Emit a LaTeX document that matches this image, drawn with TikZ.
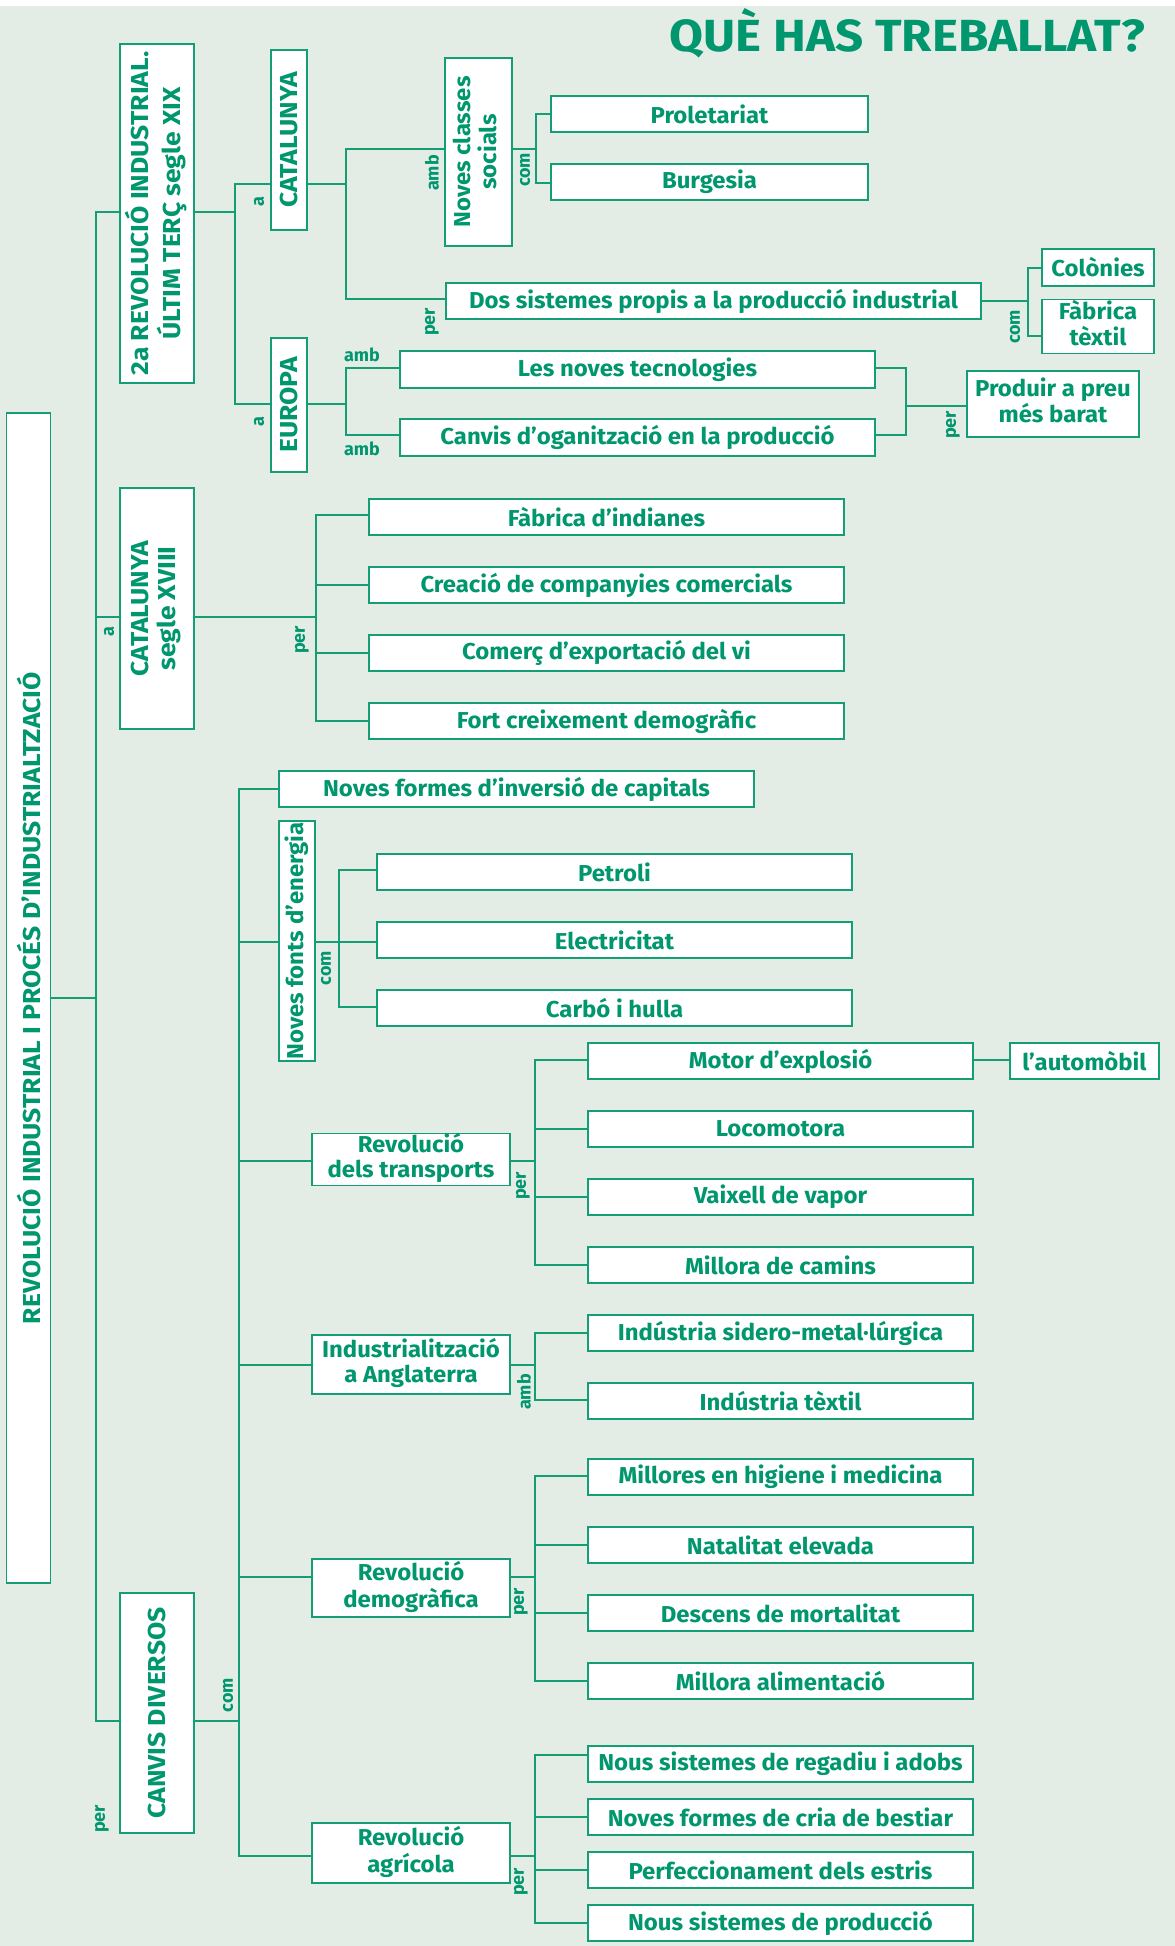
\documentclass[tikz,border=0pt]{standalone}
\usepackage{fontspec}
\setmainfont{Fira Sans}
\usepackage{graphicx}
\definecolor{tg}{RGB}{0,150,110}
\definecolor{lg}{RGB}{20,158,118}
\definecolor{bgc}{RGB}{227,237,230}
\makeatletter
\newcommand\stripw[1]{\strip@pt#1}
\makeatother
\newsavebox\mb
\newcommand\bfnt{\fontsize{23}{25}\selectfont\bfseries}
\newcommand\cfnt{\fontsize{24.5}{27}\selectfont\bfseries}
\newcommand\lfnt{\fontsize{18}{20}\selectfont\bfseries}
\newcommand\tfnt{\fontsize{45}{50}\selectfont\bfseries}
\newcommand\Bx[1]{\scalebox{\xsf}[1]{#1}}
\newcommand\Cx[1]{\scalebox{\csf}[1]{#1}}
\newcommand\Bxx[2]{\scalebox{\xsf}[1]{\begin{tabular}{@{}c@{}}#1\\#2\end{tabular}}}
\newcommand\Cxx[2]{\scalebox{\csf}[1]{\begin{tabular}{@{}c@{}}#1\\#2\end{tabular}}}
\newcommand\bx[7]{%
 \pgfmathsetmacro\bw{#4-#2}\pgfmathsetmacro\bh{#5-#3}%
 \pgfmathsetmacro\cx{(#2+#4)/2}\pgfmathsetmacro\cy{(#3+#5)/2}%
 \node[box,minimum width=\bw pt,minimum height=\bh pt,#6] (#1) at (\cx,\cy) {#7};}
\begin{document}%
\sbox\mb{\bfnt Creació de companyies comercials}%
\edef\mw{\stripw{\wd\mb}}%
\pgfmathsetmacro\xsf{372/\mw}%
\sbox\mb{\cfnt REVOLUCIÓ INDUSTRIAL I PROCÉS D’INDUSTRIALTZACIÓ}%
\edef\mw{\stripw{\wd\mb}}%
\pgfmathsetmacro\csf{652/\mw}%
\sbox\mb{\tfnt QUÈ HAS TREBALLAT?}%
\edef\mw{\stripw{\wd\mb}}%
\pgfmathsetmacro\tsf{475/\mw}%
\begin{tikzpicture}[x=1pt,y=-1pt,
  box/.style={draw=lg,line width=1.4pt,fill=white,inner sep=0pt,text=tg,font=\bfnt,align=center},
  ln/.style={draw=lg,line width=1.3pt},
  lbl/.style={text=tg,font=\lfnt,inner sep=0pt,rotate=90},
  lblh/.style={text=tg,font=\lfnt,inner sep=0pt}]
\useasboundingbox (0,0) rectangle (1175,1946);
\fill[bgc] (0,6) rectangle (1175,1946);
\fill[white] (0,0) rectangle (1175,6);
\node[anchor=base east,text=tg,font=\tfnt,inner sep=0pt] (title) at (1145,51) {\scalebox{\tsf}[1]{QUÈ HAS TREBALLAT?}};
% boxes
\bx{main}{6.5}{413}{50.5}{1583}{font=\cfnt}{\rotatebox{90}{\Cx{REVOLUCIÓ INDUSTRIAL I PROCÉS D’INDUSTRIALTZACIÓ}}}
\bx{b2a}{120}{44}{194}{383}{font=\cfnt}{\rotatebox{90}{\Cxx{2a REVOLUCIÓ INDUSTRIAL.}{ÚLTIM TERÇ segle XIX}}}
\bx{cat}{271}{50}{307}{230}{font=\cfnt}{\rotatebox{90}{\Cx{CATALUNYA}}}
\bx{eur}{271}{338}{307}{472}{font=\cfnt}{\rotatebox{90}{\Cx{EUROPA}}}
\bx{ncs}{445}{58}{512}{246}{}{\rotatebox{90}{\Bxx{Noves classes}{socials}}}
\bx{prol}{551}{96}{868}{132}{}{\Bx{Proletariat}}
\bx{burg}{551}{164}{868}{200}{}{\Bx{Burgesia}}
\bx{dos}{446}{283}{981}{319}{}{\Bx{Dos sistemes propis a la producció industrial}}
\bx{col}{1042}{249}{1154}{286}{}{\Bx{Colònies}}
\bx{fab}{1042}{300}{1154}{353}{}{\Bxx{Fàbrica}{tèxtil}}
\bx{tec}{400}{351}{875}{388}{}{\Bx{Les noves tecnologies}}
\bx{org}{400}{419}{875}{456}{}{\Bx{Canvis d’oganització en la producció}}
\bx{pro}{967}{371}{1139}{437}{}{\Bxx{Produir a preu}{més barat}}
\bx{c18}{120}{488}{194}{729}{font=\cfnt}{\rotatebox{90}{\Cxx{CATALUNYA}{segle XVIII}}}
\bx{ind}{369}{499}{844}{535}{}{\Bx{Fàbrica d’indianes}}
\bx{cre}{369}{567}{844}{603}{}{\Bx{Creació de companyies comercials}}
\bx{com}{369}{635}{844}{671}{}{\Bx{Comerç d’exportació del vi}}
\bx{fort}{369}{703}{844}{739}{}{\Bx{Fort creixement demogràfic}}
\bx{inv}{279}{771}{754}{807}{}{\Bx{Noves formes d’inversió de capitals}}
\bx{nfe}{279}{821}{315}{1061}{}{\rotatebox{90}{\Bx{Noves fonts d’energia}}}
\bx{pet}{377}{854}{852}{890}{}{\Bx{Petroli}}
\bx{ele}{377}{922}{852}{958}{}{\Bx{Electricitat}}
\bx{car}{377}{990}{852}{1026}{}{\Bx{Carbó i hulla}}
\bx{rtr}{312}{1134}{510}{1185}{}{\Bxx{Revolució}{dels transports}}
\bx{mot}{588}{1043}{973}{1079}{}{\Bx{Motor d’explosió}}
\bx{aut}{1010}{1043}{1159}{1079}{}{\Bx{l’automòbil}}
\bx{loc}{588}{1111}{973}{1147}{}{\Bx{Locomotora}}
\bx{vai}{588}{1179}{973}{1215}{}{\Bx{Vaixell de vapor}}
\bx{cam}{588}{1247}{973}{1283}{}{\Bx{Millora de camins}}
\bx{ang}{312}{1335}{510}{1394}{}{\Bxx{Industrialització}{a Anglaterra}}
\bx{sid}{588}{1315}{973}{1351}{}{\Bx{Indústria sidero-metal·lúrgica}}
\bx{tex}{588}{1383}{973}{1419}{}{\Bx{Indústria tèxtil}}
\bx{dem}{312}{1559}{510}{1617}{}{\Bxx{Revolució}{demogràfica}}
\bx{hig}{588}{1459}{973}{1495}{}{\Bx{Millores en higiene i medicina}}
\bx{nat}{588}{1527}{973}{1563}{}{\Bx{Natalitat elevada}}
\bx{des}{588}{1595}{973}{1631}{}{\Bx{Descens de mortalitat}}
\bx{ali}{588}{1663}{973}{1699}{}{\Bx{Millora alimentació}}
\bx{agr}{312}{1823}{510}{1883}{}{\Bxx{Revolució}{agrícola}}
\bx{reg}{588}{1746}{973}{1782}{}{\Bx{Nous sistemes de regadiu i adobs}}
\bx{cri}{588}{1799}{973}{1835}{}{\Bx{Noves formes de cria de bestiar}}
\bx{est}{588}{1852}{973}{1888}{}{\Bx{Perfeccionament dels estris}}
\bx{pdc}{588}{1905}{973}{1941}{}{\Bx{Nous sistemes de producció}}
\bx{cdv}{120}{1593}{194}{1833}{font=\cfnt}{\rotatebox{90}{\Cx{CANVIS DIVERSOS}}}
% junction coordinates
\coordinate (tA) at (96,212); \coordinate (tB) at (96,617);
\coordinate (tC) at (96,1721); \coordinate (tM) at (96,998);
\coordinate (jA) at (235,212); \coordinate (jA1) at (235,184); \coordinate (jA2) at (235,404);
\coordinate (jB) at (346,184); \coordinate (jB1) at (346,149); \coordinate (jB2) at (346,299);
\coordinate (jC) at (536,149); \coordinate (jC1) at (536,114); \coordinate (jC2) at (536,183);
\coordinate (jD) at (1028,301); \coordinate (jD1) at (1028,268); \coordinate (jD2) at (1028,336);
\coordinate (jE) at (346,404); \coordinate (jE1) at (346,368); \coordinate (jE2) at (346,435);
\coordinate (jF) at (906,406); \coordinate (jF1) at (906,368); \coordinate (jF2) at (906,435);
\coordinate (jG) at (316,617); \coordinate (jG1) at (316,515); \coordinate (jG2) at (316,585);
\coordinate (jG3) at (316,653); \coordinate (jG4) at (316,721);
\coordinate (jH0) at (240,1721); \coordinate (jH1) at (239,789); \coordinate (jH2) at (239,942);
\coordinate (jH3) at (239,1161); \coordinate (jH4) at (239,1365); \coordinate (jH5) at (239,1577);
\coordinate (jH6) at (239,1856);
\coordinate (jI) at (339,942); \coordinate (jI1) at (339,870); \coordinate (jI3) at (339,1007);
\coordinate (jK) at (535,1161); \coordinate (jK1) at (535,1060); \coordinate (jK2) at (535,1129);
\coordinate (jK3) at (535,1197); \coordinate (jK4) at (535,1265);
\coordinate (jL) at (535,1365); \coordinate (jL1) at (535,1333); \coordinate (jL2) at (535,1400);
\coordinate (jM) at (535,1577); \coordinate (jM1) at (535,1476); \coordinate (jM2) at (535,1545);
\coordinate (jM3) at (535,1613); \coordinate (jM4) at (535,1681);
\coordinate (jN) at (535,1856); \coordinate (jN1) at (535,1755); \coordinate (jN2) at (535,1817);
\coordinate (jN3) at (535,1870); \coordinate (jN4) at (535,1923);
% connectors
\draw[ln] (b2a.west |- tA) -- (tA) -- (tC) -- (cdv.west |- tC);
\draw[ln] (tB) -- (c18.west |- tB);
\draw[ln] (main.east |- tM) -- (tM);
\draw[ln] (b2a.east |- jA) -- (jA);
\draw[ln] (cat.west |- jA1) -- (jA1) -- (jA2) -- (eur.west |- jA2);
\draw[ln] (cat.east |- jB) -- (jB);
\draw[ln] (ncs.west |- jB1) -- (jB1) -- (jB2) -- (dos.west |- jB2);
\draw[ln] (ncs.east |- jC) -- (jC);
\draw[ln] (prol.west |- jC1) -- (jC1) -- (jC2) -- (burg.west |- jC2);
\draw[ln] (dos.east |- jD) -- (jD);
\draw[ln] (col.west |- jD1) -- (jD1) -- (jD2) -- (fab.west |- jD2);
\draw[ln] (eur.east |- jE) -- (jE);
\draw[ln] (tec.west |- jE1) -- (jE1) -- (jE2) -- (org.west |- jE2);
\draw[ln] (tec.east |- jF1) -- (jF1) -- (jF2) -- (org.east |- jF2);
\draw[ln] (jF) -- (pro.west |- jF);
\draw[ln] (c18.east |- jG) -- (jG);
\draw[ln] (ind.west |- jG1) -- (jG1) -- (jG4) -- (fort.west |- jG4);
\draw[ln] (jG2) -- (cre.west |- jG2);
\draw[ln] (jG3) -- (com.west |- jG3);
\draw[ln] (cdv.east |- jH0) -- (jH0);
\draw[ln] (inv.west |- jH1) -- (jH1) -- (jH6) -- (agr.west |- jH6);
\draw[ln] (jH2) -- (nfe.west |- jH2);
\draw[ln] (jH3) -- (rtr.west |- jH3);
\draw[ln] (jH4) -- (ang.west |- jH4);
\draw[ln] (jH5) -- (dem.west |- jH5);
\draw[ln] (nfe.east |- jI) -- (jI);
\draw[ln] (pet.west |- jI1) -- (jI1) -- (jI3) -- (car.west |- jI3);
\draw[ln] (jI) -- (ele.west |- jI);
\draw[ln] (rtr.east |- jK) -- (jK);
\draw[ln] (mot.west |- jK1) -- (jK1) -- (jK4) -- (cam.west |- jK4);
\draw[ln] (jK2) -- (loc.west |- jK2);
\draw[ln] (jK3) -- (vai.west |- jK3);
\draw[ln] (mot.east |- jK1) -- (aut.west |- jK1);
\draw[ln] (ang.east |- jL) -- (jL);
\draw[ln] (sid.west |- jL1) -- (jL1) -- (jL2) -- (tex.west |- jL2);
\draw[ln] (dem.east |- jM) -- (jM);
\draw[ln] (hig.west |- jM1) -- (jM1) -- (jM4) -- (ali.west |- jM4);
\draw[ln] (jM2) -- (nat.west |- jM2);
\draw[ln] (jM3) -- (des.west |- jM3);
\draw[ln] (agr.east |- jN) -- (jN);
\draw[ln] (reg.west |- jN1) -- (jN1) -- (jN4) -- (pdc.west |- jN4);
\draw[ln] (jN2) -- (cri.west |- jN2);
\draw[ln] (jN3) -- (est.west |- jN3);
% labels
\node[lbl] (l1) at (259,202) {a};
\node[lbl] (l2) at (259,422) {a};
\node[lbl] (l3) at (432,173) {amb};
\node[lbl] (l4) at (432,322) {per};
\node[lbl] (l5) at (525,170) {com};
\node[lbl] (l6) at (1015,327) {com};
\node[lblh] (l7) at (362,355) {amb};
\node[lblh] (l8) at (362,449) {amb};
\node[lbl] (l9) at (953,425) {per};
\node[lbl] (l10) at (109,632) {a};
\node[lbl] (l11) at (302,640) {per};
\node[lbl] (l12) at (326,968) {com};
\node[lbl] (l13) at (523,1186) {per};
\node[lbl] (l14) at (524,1392) {amb};
\node[lbl] (l15) at (521,1602) {per};
\node[lbl] (l16) at (521,1882) {per};
\node[lbl] (l17) at (228,1695) {com};
\node[lbl] (l18) at (102,1819) {per};
\end{tikzpicture}%
\end{document}
